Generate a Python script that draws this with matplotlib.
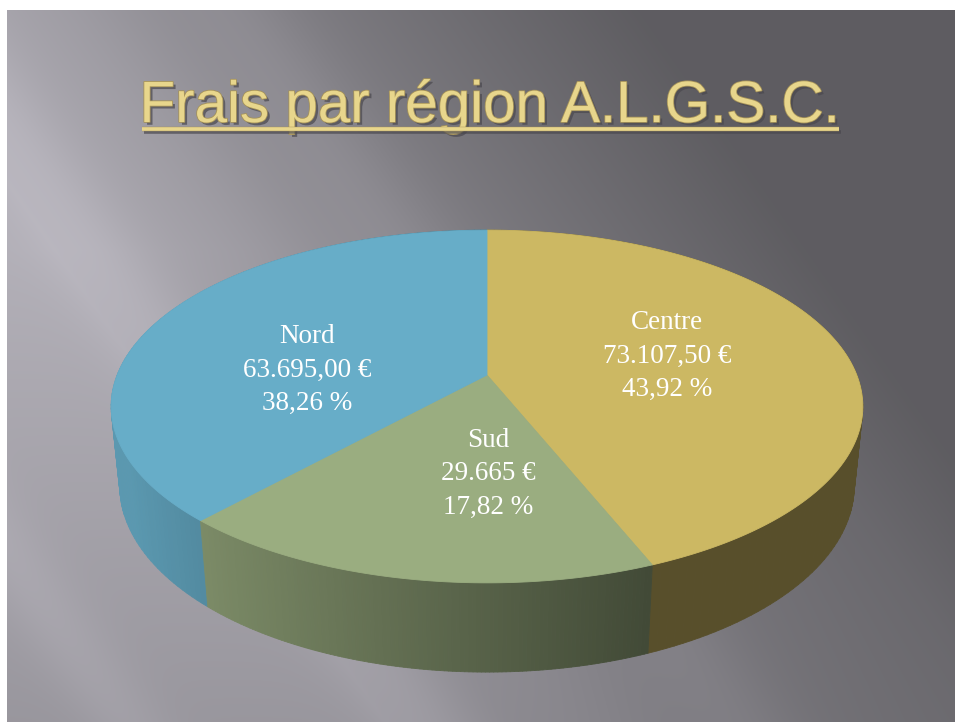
import numpy as np
import matplotlib
matplotlib.use("Agg")
import matplotlib.pyplot as plt
import matplotlib.patheffects as pe
from matplotlib.patches import Polygon
from matplotlib.collections import PolyCollection

# ---- data (clockwise from 12 o'clock) ----
regions = ["Centre", "Sud", "Nord"]
amounts = [73107.50, 29665.00, 63695.00]
amount_text = ["73.107,50 €", "29.665 €", "63.695,00 €"]
top_colors = ["#ccb863", "#9aad80", "#67adc8"]
title = "Frais par région A.L.G.S.C."

# label anchors (pixel coords of the slide)
label_pos = {"Centre": (667, 356), "Sud": (488, 474), "Nord": (307, 370)}

W, H = 955, 722
fig = plt.figure(figsize=(W / 100, H / 100), dpi=100)
fig.patch.set_facecolor("white")
ax = fig.add_axes([0, 0, 1, 1])
ax.set_xlim(0, W)
ax.set_ylim(H, 0)
ax.axis("off")

# ---- slide background: grey gradient with soft diagonal light streaks ----
x0, y0 = 7, 10
xx, yy = np.meshgrid(np.arange(x0, W), np.arange(y0, H))
s = xx - 0.7 * yy
base = 0.70 - 0.33 * np.clip((s + 120) / 750, 0, 1) ** 0.8
base -= 0.10 * np.clip((yy - 250) / (H - 250), 0, 1) * np.clip(1 - s / 500, 0, 1)
for c0, w0, a0 in [(-380, 45, 0.035), (-80, 55, 0.04), (230, 60, 0.03), (60, 120, 0.03)]:
    base += a0 * np.exp(-((s - c0) / w0) ** 2)
rgb = np.dstack([base * 1.0, base * 0.985, base * 1.03])
ax.imshow(np.clip(rgb, 0, 1), extent=[x0, W, H, y0], aspect="auto", zorder=0,
          interpolation="bilinear")

# ---- perspective projection of a flat cylinder ----
cx, cy = 487, 375
tilt = np.radians(27.5)
D, F, h = 4.97, 1838.0, 0.244
ct, st = np.cos(tilt), np.sin(tilt)


def project(X, Z, Y=0.0):
    d = D - Y * st + Z * ct
    v = Y * ct + Z * st
    return cx + F * X / d, cy - F * v / d


def shade(color, f):
    r, g, b = matplotlib.colors.to_rgb(color)
    return (r * f, g * f, b * f)


total = sum(amounts)
fracs = [a / total for a in amounts]
bounds = np.concatenate([[0], np.cumsum(fracs)]) * 2 * np.pi

# side walls
quads, qcols, qz = [], [], []
for i, col in enumerate(top_colors):
    th = np.linspace(bounds[i], bounds[i + 1], 120)
    for t1, t2 in zip(th[:-1], th[1:]):
        X1, Z1, X2, Z2 = np.sin(t1), np.cos(t1), np.sin(t2), np.cos(t2)
        p1 = project(X1, Z1); p2 = project(X2, Z2)
        p3 = project(X2, Z2, -h); p4 = project(X1, Z1, -h)
        quads.append([p1, p2, p3, p4])
        xm = (X1 + X2) / 2
        f = np.clip(0.56 - 0.36 * xm, 0.43, 0.88)
        qcols.append(shade(col, f))
        qz.append((Z1 + Z2) / 2)
order = np.argsort(qz)[::-1]
pc = PolyCollection([quads[k] for k in order], facecolors=[qcols[k] for k in order],
                    edgecolors=[qcols[k] for k in order], linewidths=0.6, zorder=2)
ax.add_collection(pc)

# top faces
for i, col in enumerate(top_colors):
    th = np.linspace(bounds[i], bounds[i + 1], 200)
    pts = [project(0, 0)] + [project(np.sin(t), np.cos(t)) for t in th]
    ax.add_patch(Polygon(pts, closed=True, facecolor=col, edgecolor=col,
                         linewidth=0.6, zorder=3))

# data labels
for reg, amt, fr in zip(regions, amount_text, fracs):
    pct = f"{fr * 100:.2f}".replace(".", ",") + " %"
    lx, ly = label_pos[reg]
    ax.text(lx, ly, f"{reg}\n{amt}\n{pct}", ha="center", va="center",
            color="white", fontsize=19.5, family="Liberation Serif",
            linespacing=1.45, zorder=5)

# title
gold = "#e8d68c"
fx = [pe.SimplePatchShadow(offset=(2, -2), shadow_rgbFace="#4a484e", alpha=0.7),
      pe.Stroke(linewidth=1.2, foreground="#a6935a"), pe.Normal()]
t = ax.text(490, 122, title, ha="center", va="baseline", color=gold,
            fontsize=42, family="Liberation Sans", zorder=6, path_effects=fx)
fig.canvas.draw()
bb = t.get_window_extent().transformed(ax.transData.inverted())
ax.plot([bb.x0 + 2, bb.x1 - 2], [129, 129], color=gold, lw=2.6, solid_capstyle="butt",
        zorder=6, path_effects=[pe.SimpleLineShadow(offset=(2, -2), shadow_color="#4a484e", alpha=0.7),
                                pe.Stroke(linewidth=3.2, foreground="#a6935a"), pe.Normal()])

fig.savefig("out.png", dpi=100, facecolor="white")
